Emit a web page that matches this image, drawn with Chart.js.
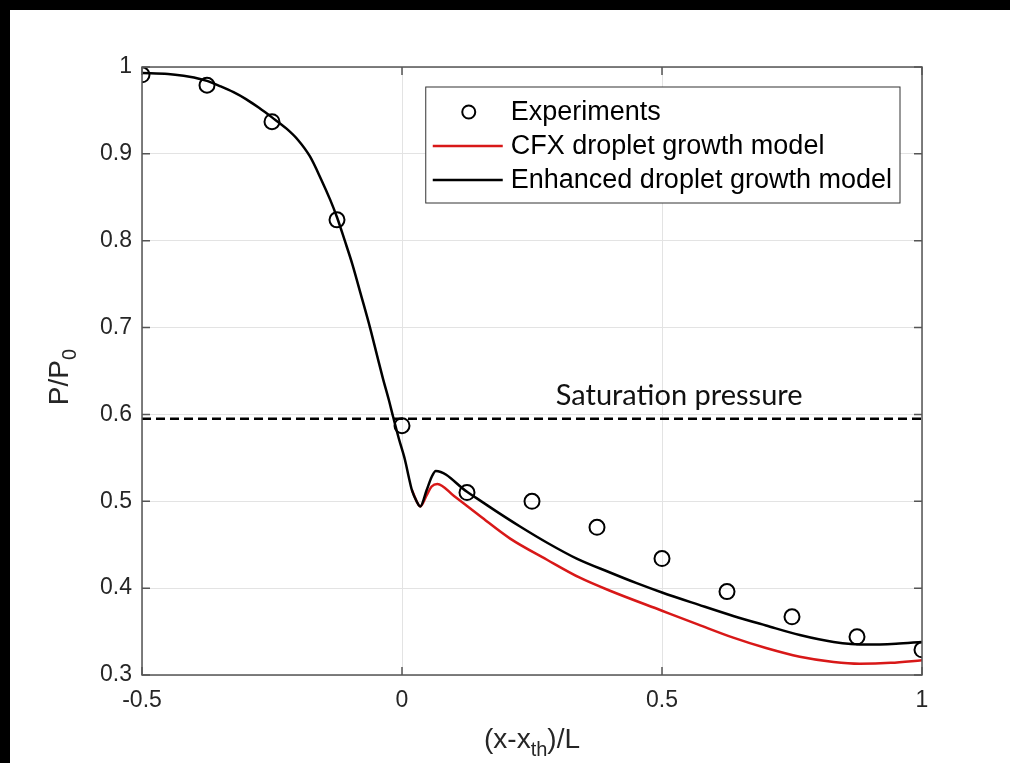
<!DOCTYPE html>
<html>
<head>
<meta charset="utf-8">
<script src="https://cdn.jsdelivr.net/npm/chart.js@4"></script>
<style>
  html, body { margin: 0; padding: 0; background: #000; }
  #wrap { position: absolute; left: 10px; top: 10px; width: 1000px; height: 753px; background: #fff; }
</style>
</head>
<body>
<div id="wrap"><canvas id="myChart" width="1000" height="753"></canvas></div>
<script>
// experiments
var expX = [-0.5, -0.375, -0.25, -0.125, 0, 0.125, 0.25, 0.375, 0.5, 0.625, 0.75, 0.875, 1]
var expY = [0.991, 0.979, 0.937, 0.824, 0.587, 0.51, 0.5, 0.47, 0.434, 0.396, 0.367, 0.344, 0.329]

// enhanced droplet growth model (black)
var enhX = [-0.5, -0.45, -0.42, -0.4, -0.375, -0.35, -0.324, -0.3, -0.275, -0.25, -0.222, -0.2, -0.177, -0.155, -0.138, -0.125, -0.11, -0.095, -0.08, -0.0615, -0.048, -0.0365, -0.025, -0.017, -0.006, 0.006, 0.013, 0.019, 0.0285, 0.035, 0.0475, 0.057, 0.065, 0.125, 0.18, 0.227, 0.28, 0.336, 0.4, 0.45, 0.5, 0.57, 0.637, 0.7, 0.765, 0.83, 0.894, 0.95, 1]
var enhY = [0.993, 0.992, 0.990, 0.988, 0.984, 0.978, 0.971, 0.963, 0.953, 0.942, 0.929, 0.916, 0.897, 0.870, 0.847, 0.827, 0.800, 0.772, 0.740, 0.700, 0.668, 0.641, 0.616, 0.597, 0.572, 0.547, 0.528, 0.513, 0.4995, 0.494, 0.513, 0.528, 0.535, 0.511, 0.489, 0.471, 0.452, 0.434, 0.418, 0.406, 0.395, 0.381, 0.368, 0.357, 0.346, 0.338, 0.335, 0.336, 0.338]

// CFX droplet growth model (red): leaves the black curve at the dip
var cfxFromX = 0.019
var cfxX = [0.0475, 0.057, 0.068, 0.1, 0.15, 0.208, 0.278, 0.342, 0.4, 0.5, 0.57, 0.637, 0.7, 0.765, 0.83, 0.88, 0.94, 1]
var cfxY = [0.507, 0.517, 0.520, 0.506, 0.483, 0.457, 0.433, 0.412, 0.397, 0.374, 0.358, 0.343, 0.331, 0.321, 0.315, 0.313, 0.314, 0.317]

var satLevel = 0.595
var satLabel = 'Saturation pressure'
var satLabelAt = [0.533, 0.622]

var xTicks = [-0.5, 0, 0.5, 1]
var yTicks = [0.3, 0.4, 0.5, 0.6, 0.7, 0.8, 0.9, 1]

const pts = (xs, ys) => xs.map((x, i) => ({x: x, y: ys[i]}))
const enhPts = pts(enhX, enhY)
const cfxPts = enhPts.filter(p => p.x >= cfxFromX && p.x <= 0.035).concat(pts(cfxX, cfxY))

const axisFont = {family: '"Liberation Sans", Arial, sans-serif', size: 23}

// box, inward ticks, titles, annotation and legend, MATLAB style
const extras = {
    id: 'extras',
    afterDatasetsDraw(chart) {
        const c = chart.ctx, a = chart.chartArea
        const xs = chart.scales.x, ys = chart.scales.y
        c.save()
        // saturation label
        c.fillStyle = '#111'
        c.font = '29px Lato, "Open Sans", sans-serif'
        c.textAlign = 'center'
        c.textBaseline = 'middle'
        c.fillText(satLabel, xs.getPixelForValue(satLabelAt[0]), ys.getPixelForValue(satLabelAt[1]))

        // box
        c.strokeStyle = '#555'
        c.lineWidth = 1.5
        c.strokeRect(a.left, a.top, a.right - a.left, a.bottom - a.top)
        c.beginPath()
        xTicks.forEach(v => {
            const px = xs.getPixelForValue(v)
            c.moveTo(px, a.bottom); c.lineTo(px, a.bottom - 8)
            c.moveTo(px, a.top); c.lineTo(px, a.top + 8)
        })
        yTicks.forEach(v => {
            const py = ys.getPixelForValue(v)
            c.moveTo(a.left, py); c.lineTo(a.left + 8, py)
            c.moveTo(a.right, py); c.lineTo(a.right - 8, py)
        })
        c.stroke()

        // legend
        const items = chart.data.datasets.filter(d => d.label)
        c.font = '27px "Liberation Sans", Arial, sans-serif'
        let tw = 0
        items.forEach(d => { tw = Math.max(tw, c.measureText(d.label).width) })
        const bw = 85 + tw + 8, bh = 116
        const bx = a.right - 22 - bw, by = a.top + 20
        c.fillStyle = '#fff'
        c.fillRect(bx, by, bw, bh)
        c.strokeStyle = '#333'
        c.lineWidth = 1
        c.strokeRect(bx, by, bw, bh)
        items.forEach((d, i) => {
            const ry = by + 25 + i * 34
            if (d.showLine === false) {
                c.beginPath()
                c.arc(bx + 43, ry, 6.5, 0, Math.PI * 2)
                c.strokeStyle = d.borderColor
                c.lineWidth = 2
                c.stroke()
            } else {
                c.beginPath()
                c.moveTo(bx + 7, ry); c.lineTo(bx + 77, ry)
                c.strokeStyle = d.borderColor
                c.lineWidth = 2.5
                c.stroke()
            }
            c.fillStyle = '#000'
            c.textAlign = 'left'
            c.textBaseline = 'middle'
            c.fillText(d.label, bx + 85, ry + 1)
        })

        // x title (x-x_th)/L
        c.fillStyle = '#262626'
        c.textBaseline = 'alphabetic'
        const big = '28px "Liberation Sans", Arial, sans-serif'
        const small = '20px "Liberation Sans", Arial, sans-serif'
        c.font = big
        const p1 = '(x-x', p3 = ')/L'
        const w1 = c.measureText(p1).width, w3 = c.measureText(p3).width
        c.font = small
        const w2 = c.measureText('th').width
        let tx = (a.left + a.right) / 2 - (w1 + w2 + w3) / 2
        const tyb = a.bottom + 73
        c.font = big; c.fillText(p1, tx, tyb); tx += w1
        c.font = small; c.fillText('th', tx, tyb + 8); tx += w2
        c.font = big; c.fillText(p3, tx, tyb)

        // y title P/P_0
        c.translate(a.left - 74, (a.top + a.bottom) / 2 + 6)
        c.rotate(-Math.PI / 2)
        c.font = big
        const q1 = 'P/P'
        const q1w = c.measureText(q1).width
        c.font = small
        const q2w = c.measureText('0').width
        let qx = -(q1w + q2w) / 2
        c.font = big; c.fillText(q1, qx, 0); qx += q1w
        c.font = small; c.fillText('0', qx, 8)
        c.restore()
    }
}

var ctx = document.getElementById('myChart')
var myChart = new Chart(ctx, {
    type: 'scatter',
    data: {
        datasets: [{
            label: 'Experiments',
            data: pts(expX, expY),
            showLine: false,
            pointRadius: 7.5,
            pointBorderWidth: 2,
            borderColor: '#000',
            backgroundColor: 'rgba(0,0,0,0)',
            order: 0
        }, {
            label: 'CFX droplet growth model',
            data: cfxPts,
            showLine: true,
            borderColor: '#d81818',
            borderWidth: 2.5,
            pointRadius: 0,
            cubicInterpolationMode: 'monotone',
            order: 2
        }, {
            label: 'Enhanced droplet growth model',
            data: enhPts,
            showLine: true,
            borderColor: '#000',
            borderWidth: 2.5,
            pointRadius: 0,
            cubicInterpolationMode: 'monotone',
            order: 1
        }, {
            label: '',
            data: [{x: -0.5, y: satLevel}, {x: 1, y: satLevel}],
            showLine: true,
            borderColor: '#000',
            borderWidth: 2.5,
            borderDash: [9, 5],
            pointRadius: 0,
            order: 3
        }]
    },
    options: {
        responsive: false,
        animation: false,
        layout: { padding: { top: 57, right: 88, left: 0, bottom: 0 } },
        plugins: { legend: { display: false }, tooltip: { enabled: false } },
        scales: {
            x: {
                type: 'linear',
                min: -0.5,
                max: 1,
                afterBuildTicks: s => { s.ticks = xTicks.map(v => ({value: v})) },
                afterFit: s => { s.height = 88 },
                grid: { color: '#e3e3e3', drawTicks: false },
                border: { display: false },
                ticks: { font: axisFont, color: '#262626', padding: 12, maxRotation: 0, callback: v => String(v) }
            },
            y: {
                min: 0.3,
                max: 1,
                afterBuildTicks: s => { s.ticks = yTicks.map(v => ({value: v})) },
                afterFit: s => { s.width = 132 },
                grid: { color: '#e3e3e3', drawTicks: false },
                border: { display: false },
                ticks: { font: axisFont, color: '#262626', padding: 10, callback: v => String(v) }
            }
        }
    },
    plugins: [extras]
})
</script>
</body>
</html>
